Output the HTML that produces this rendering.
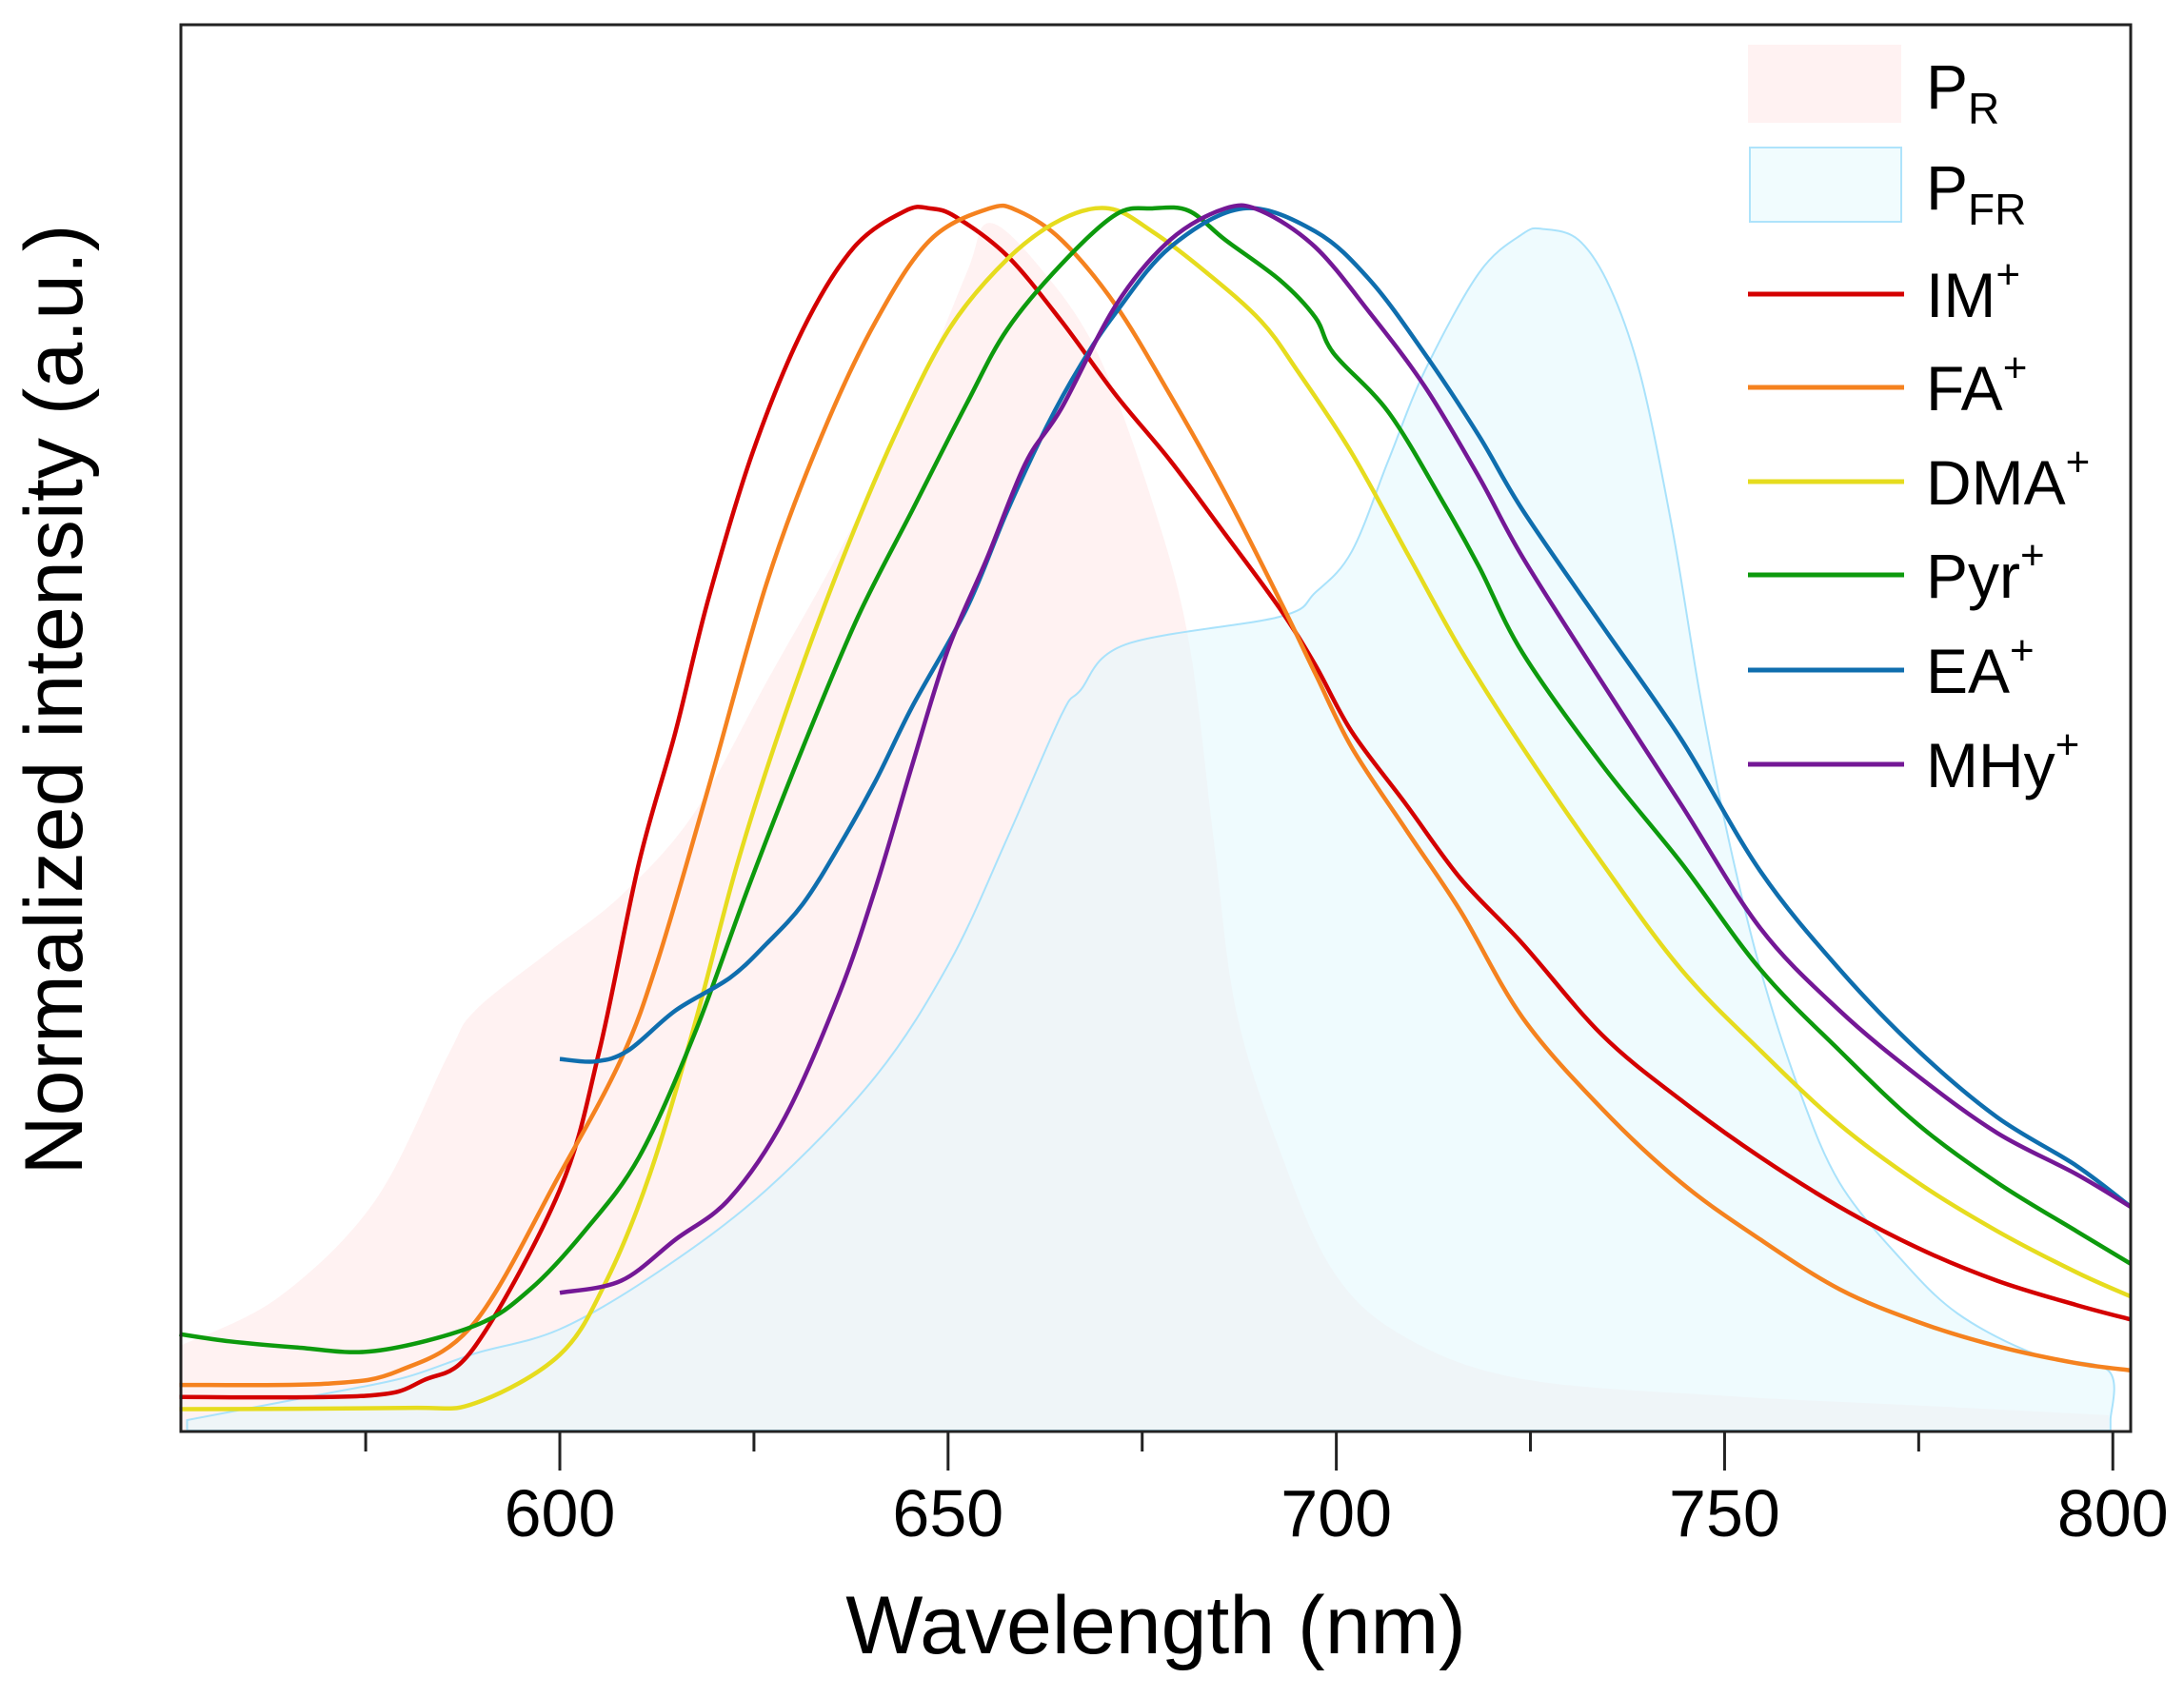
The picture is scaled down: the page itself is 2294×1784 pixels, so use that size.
<!DOCTYPE html>
<html><head><meta charset="utf-8"><style>
html,body{margin:0;padding:0;background:#fff;}
svg{display:block;font-family:"Liberation Sans",Arial,sans-serif;}
</style></head><body>
<svg id="chart" width="2294" height="1784" viewBox="0 0 2294 1784" xmlns="http://www.w3.org/2000/svg">
<g id="fills"></g>
<g id="lines"></g>
<rect x="190" y="26" width="2048" height="1478" fill="none" stroke="#222" stroke-width="3"/>
<g id="xticks"></g>
<text x="1214" y="1737" font-size="86" text-anchor="middle">Wavelength (nm)</text>
<text transform="translate(86,735) rotate(-90)" font-size="86" text-anchor="middle">Normalized intensity (a.u.)</text>
<g>
 <rect x="1836" y="47" width="161" height="82" fill="#fff2f2"/>
 <text x="2023" y="114" font-size="66">P<tspan font-size="46" dy="16">R</tspan></text>
 <rect x="1838" y="155" width="159" height="78" fill="#f1fcfe" stroke="#aee3fb" stroke-width="2"/>
 <text x="2023" y="220" font-size="66">P<tspan font-size="46" dy="16">FR</tspan></text>
</g>
<g id="legend-lines"></g>
</svg>
<script>
const categories = ["IM+","FA+","DMA+","Pyr+","EA+","MHy+"];
const colors = ["#d40000","#f5821f","#e6dc1e","#0d9a0d","#0f6eae","#741896"];
const imX=[551,575,582.5,589.1,600,605.1,610.2,614.9,619.1,624.8,631.3,637.9,644.5,647.7,651,657.6,664.6,671.6,678.6,685.7,692.7,697.3,702,709,716,724,734.2,744.4,754.6,764.8,774.9,785.1,795.3,802.3];
const imY=[0.019,0.02,0.033,0.061,0.19,0.305,0.46,0.568,0.677,0.798,0.9,0.968,0.998,1.0,0.993,0.961,0.907,0.846,0.792,0.731,0.67,0.623,0.568,0.508,0.447,0.393,0.318,0.264,0.217,0.176,0.142,0.115,0.095,0.083];
const faX=[551,570,579.4,589.1,600,607.9,612.6,619.1,626.6,633.7,640.7,647.7,655.3,659,664.6,671.6,678.6,685.7,692.7,697.3,702,709,716,724,734.2,744.4,754.6,764.8,774.9,785.1,795.3,802.3];
const faY=[0.029,0.03,0.041,0.081,0.203,0.298,0.379,0.521,0.69,0.812,0.907,0.974,1.0,0.998,0.974,0.92,0.846,0.765,0.677,0.616,0.555,0.487,0.42,0.332,0.257,0.196,0.149,0.108,0.081,0.061,0.047,0.041];
const dmaX=[551,580,589.1,600,606,611.6,617.3,622.9,629,636,643.1,650.1,657.6,664.6,670.7,676.3,683.3,690.3,695,702,709,716,724,734.2,744.4,754.6,764.8,774.9,785.1,795.3,802.3];
const dmaY=[0.009,0.01,0.014,0.054,0.115,0.203,0.325,0.46,0.582,0.704,0.812,0.9,0.958,0.991,1.0,0.981,0.947,0.907,0.866,0.798,0.717,0.636,0.555,0.46,0.372,0.305,0.244,0.196,0.156,0.122,0.102];
const pyrX=[551,557.5,566,576.2,589.1,596.2,603.2,610.2,617.3,624.3,631.3,638.4,645.4,652.4,657.6,664.6,671.6,676.3,681,685.7,692.7,697.3,699.7,706.7,713.7,718.4,724,734.2,744.4,754.6,764.8,774.9,785.1,795.3,802.3];
const pyrY=[0.071,0.065,0.06,0.057,0.078,0.108,0.156,0.217,0.318,0.44,0.555,0.663,0.751,0.839,0.9,0.954,0.995,1.0,0.998,0.974,0.941,0.91,0.88,0.832,0.758,0.704,0.633,0.541,0.46,0.372,0.305,0.244,0.196,0.156,0.129];
const eaX=[600,604.6,608.8,614.9,621.9,626.6,631.3,636,640.7,645.4,652.4,657.6,662.7,667,671.6,678.6,688,697.3,704.3,711.4,718.4,724,734.2,744.4,754.6,764.8,774.9,785.1,795.3,802.3];
const eaY=[0.298,0.296,0.305,0.338,0.365,0.393,0.426,0.474,0.528,0.589,0.67,0.75,0.82,0.87,0.914,0.968,1.0,0.981,0.941,0.88,0.812,0.751,0.656,0.562,0.453,0.372,0.305,0.25,0.21,0.176];
const mhyX=[600,607.9,614.9,621.9,629,636,640.7,645.4,650,655,660,664.6,671.6,678.6,685.7,690.3,697.3,704.3,711.4,718.4,724,734.2,744.4,754.6,764.8,774.9,785.1,795.3,802.3];
const mhyY=[0.105,0.115,0.149,0.183,0.25,0.352,0.44,0.541,0.636,0.711,0.79,0.835,0.92,0.974,1.0,0.998,0.968,0.914,0.853,0.778,0.712,0.609,0.508,0.406,0.338,0.284,0.237,0.203,0.176];
const prX=[551,563.7,576.2,585.6,589.1,598.5,607.9,617.3,626.6,636,645.4,652.4,655.3,662,669.3,676.3,681,684.3,687.1,692.7,699.7,709,723.9,750,775,799.5];
const prY=[0.061,0.101,0.181,0.301,0.338,0.386,0.433,0.501,0.609,0.717,0.839,0.947,0.988,0.95,0.88,0.758,0.643,0.474,0.338,0.223,0.122,0.068,0.034,0.02,0.012,0.004];
const pfrX=[552,570,580,589.1,600,612.6,626.6,640.7,650.3,657.6,664.6,667,672.8,692.7,697.3,702,706.7,711.4,718.4,724,726.6,731.2,735.3,739.3,743.4,746.9,750.5,754.6,759.7,764.8,772.4,780,790.2,799.4,799.7];
const pfrY=[0.0,0.022,0.035,0.055,0.075,0.122,0.19,0.284,0.379,0.48,0.582,0.602,0.64,0.663,0.683,0.717,0.792,0.866,0.947,0.979,0.983,0.974,0.934,0.859,0.731,0.596,0.48,0.372,0.271,0.196,0.135,0.088,0.054,0.041,0.0];
const seriesX=[imX,faX,dmaX,pyrX,eaX,mhyX];
const seriesY=[imY,faY,dmaY,pyrY,eaY,mhyY];
const xTicks=[600,650,700,750,800];
const xMinor=[575,625,675,725,775];

const NS="http://www.w3.org/2000/svg";
const X0=190,X1=2238,XMIN=551.2,XMAX=802.3;
const Y0=1492,Y1=219;
function sx(v){return X0+(v-XMIN)/(XMAX-XMIN)*(X1-X0);}
function sy(v){return Y0-v*(Y0-Y1);}
function smooth(xs,ys){
  const p=xs.map((x,i)=>[sx(x),sy(ys[i])]);
  let d="M"+p[0][0].toFixed(1)+","+p[0][1].toFixed(1);
  for(let i=0;i<p.length-1;i++){
    const a=p[i-1]||p[i],b=p[i],c=p[i+1],e=p[i+2]||c;
    const c1=[b[0]+(c[0]-a[0])/6,b[1]+(c[1]-a[1])/6],c2=[c[0]-(e[0]-b[0])/6,c[1]-(e[1]-b[1])/6];
    d+="C"+c1[0].toFixed(1)+","+c1[1].toFixed(1)+" "+c2[0].toFixed(1)+","+c2[1].toFixed(1)+" "+c[0].toFixed(1)+","+c[1].toFixed(1);
  }
  return d;
}
const fills=document.getElementById("fills");
const base=1503;
let pr=document.createElementNS(NS,"path");
pr.setAttribute("d",smooth(prX,prY)+"L"+sx(prX[prX.length-1])+","+base+"L"+sx(prX[0])+","+base+"Z");
pr.setAttribute("fill","#fff2f2");


fills.appendChild(pr);
let pfr=document.createElementNS(NS,"path");
pfr.setAttribute("d",smooth(pfrX,pfrY)+"L"+sx(pfrX[pfrX.length-1])+","+base+"L"+sx(pfrX[0])+","+base+"Z");
pfr.setAttribute("fill","rgba(225,248,253,0.55)");
pfr.setAttribute("stroke","#a9e2fb");
pfr.setAttribute("stroke-width","2");


fills.appendChild(pfr);

const lines=document.getElementById("lines");
categories.forEach((c,i)=>{
  const p=document.createElementNS(NS,"path");
  p.setAttribute("d",smooth(seriesX[i],seriesY[i]));
  p.setAttribute("fill","none");
  p.setAttribute("stroke",colors[i]);
  p.setAttribute("stroke-width","4.5");
  p.setAttribute("stroke-linejoin","round");
  
  
  lines.appendChild(p);
});
const xt=document.getElementById("xticks");
xTicks.forEach(t=>{
  const l=document.createElementNS(NS,"line");
  l.setAttribute("x1",sx(t));l.setAttribute("x2",sx(t));l.setAttribute("y1",1504);l.setAttribute("y2",1545);
  l.setAttribute("stroke","#222");l.setAttribute("stroke-width","3");
  
  
  xt.appendChild(l);
  const tx=document.createElementNS(NS,"text");
  tx.setAttribute("x",sx(t));tx.setAttribute("y",1614);tx.setAttribute("font-size","70");tx.setAttribute("text-anchor","middle");
  tx.textContent=t;
  
  
  xt.appendChild(tx);
});
xMinor.forEach(t=>{
  const l=document.createElementNS(NS,"line");
  l.setAttribute("x1",sx(t));l.setAttribute("x2",sx(t));l.setAttribute("y1",1504);l.setAttribute("y2",1525);
  l.setAttribute("stroke","#222");l.setAttribute("stroke-width","3");
  
  
  xt.appendChild(l);
});
const ll=document.getElementById("legend-lines");
const ly=[309,407,506,604,704,803];
categories.forEach((c,i)=>{
  const l=document.createElementNS(NS,"line");
  l.setAttribute("x1",1836);l.setAttribute("x2",2000);l.setAttribute("y1",ly[i]);l.setAttribute("y2",ly[i]);
  l.setAttribute("stroke",colors[i]);l.setAttribute("stroke-width","5");
  
  
  ll.appendChild(l);
  const t=document.createElementNS(NS,"text");
  t.setAttribute("x",2023);t.setAttribute("y",ly[i]+24);t.setAttribute("font-size","66");
  t.innerHTML=c.replace('+','')+'<tspan font-size="44" dy="-30">+</tspan>';
  
  
  ll.appendChild(t);
});
</script>
</body></html>
